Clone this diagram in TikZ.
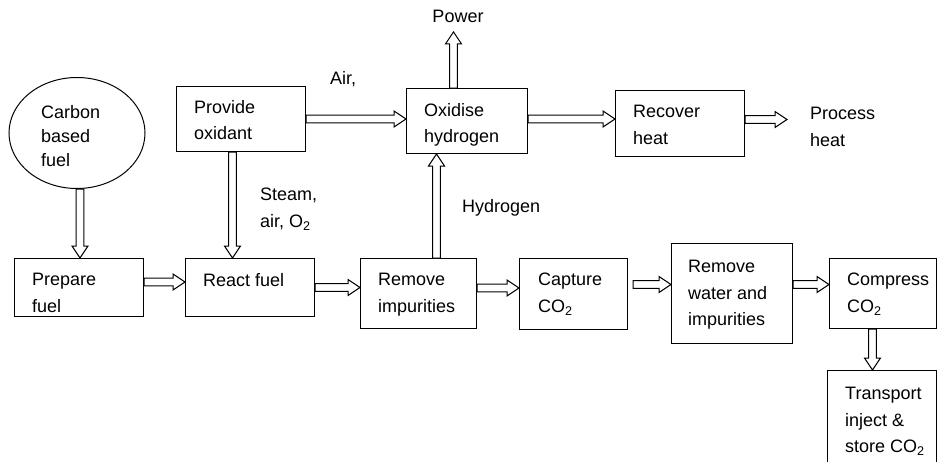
\documentclass[tikz,border=0pt]{standalone}
\usepackage{fontspec}
\setmainfont{Liberation Sans}
\usetikzlibrary{calc,positioning,shapes.geometric}
\newcommand{\cotwo}{CO\textsubscript{2}}
% hollow block arrow from #1 to #2
\newcommand{\flow}[2]{\path[flowline] let \p1=#1, \p2=#2, \n1={atan2(\y2-\y1,\x2-\x1)}, \n2={veclen(\x2-\x1,\y2-\y1)} in [shift={(\p1)}, rotate=\n1] (0,-3.8) -- ({\n2-12},-3.8) -- ({\n2-12},-8) -- (\n2,0) -- ({\n2-12},8) -- ({\n2-12},3.8) -- (0,3.8) -- cycle;}
\tikzset{
  box/.style={draw, line width=1pt, anchor=north west, inner sep=0pt},
  txt/.style={anchor=north west, inner sep=0pt, align=left, font=\fontsize{18}{26.5}\selectfont},
  flowline/.style={draw, line width=1pt, fill=white, line join=miter}
}

\begin{document}
\begin{tikzpicture}[x=1pt,y=-1pt]
\useasboundingbox (0,0) rectangle (937,461);
% boxes
\node[draw, ellipse, line width=1pt, minimum width=136pt, minimum height=111pt, inner sep=0pt] (fuel) at (77,133) {};
\node[box, minimum width=129pt, minimum height=65pt] (oxid) at (176,86) {};
\node[box, minimum width=121pt, minimum height=65pt] (oxh) at (406,88) {};
\node[box, minimum width=129pt, minimum height=66pt] (heat) at (615,90) {};
\node[box, minimum width=129pt, minimum height=58pt] (prep) at (14,258) {};
\node[box, minimum width=129pt, minimum height=58pt] (react) at (185,258) {};
\node[box, minimum width=116pt, minimum height=70pt] (clean) at (360,258) {};
\node[box, minimum width=108pt, minimum height=71pt] (capt) at (519,258) {};
\node[box, minimum width=121pt, minimum height=100pt] (dry) at (671,243) {};
\node[box, minimum width=107pt, minimum height=70pt] (comp) at (829,258) {};
\node[box, minimum width=109pt, minimum height=110pt] (store) at (827,370) {};
% box texts
\node[txt, font=\fontsize{18}{24}\selectfont] (fuelt) at (41,105) {Carbon\\based\\fuel};
\node[txt] (oxidt) at ([shift={(18pt,-14pt)}]oxid.north west) {Provide\\oxidant};
\node[txt] (oxht) at ([shift={(18pt,-15pt)}]oxh.north west) {Oxidise\\hydrogen};
\node[txt] (heatt) at ([shift={(18pt,-15pt)}]heat.north west) {Recover\\heat};
\node[txt] (prept) at ([shift={(18pt,-15pt)}]prep.north west) {Prepare\\fuel};
\node[txt] (reactt) at ([shift={(18pt,-15pt)}]react.north west) {React fuel};
\node[txt] (cleant) at ([shift={(18pt,-15pt)}]clean.north west) {Remove\\impurities};
\node[txt] (captt) at ([shift={(19pt,-15pt)}]capt.north west) {Capture\\\cotwo};
\node[txt] (dryt) at ([shift={(17pt,-17pt)}]dry.north west) {Remove\\water and\\impurities};
\node[txt] (compt) at ([shift={(18pt,-15pt)}]comp.north west) {Compress\\\cotwo};
\node[txt] (storet) at ([shift={(18pt,-17pt)}]store.north west) {Transport\\inject \&\\store \cotwo};
% free labels
\node[txt, anchor=north] (power) at (458,10) {Power};
\node[txt] (air) at (330,71) {Air,};
\node[txt] (steam) at (260,188) {Steam,\\air, O\textsubscript{2}};
\node[txt] (hyd) at (462,199) {Hydrogen};
\node[txt] (proc) at (810,107) {Process\\heat};
\coordinate (pw) at ([yshift=-9pt]power.south);
\coordinate (procin) at ([xshift=-23pt]proc.west);
% connectors
\flow{([xshift=3pt]fuel.south)}{([xshift=3pt]fuel.south |- prep.north)}
\flow{([xshift=-8.5pt]oxid.south)}{([xshift=-8.5pt]oxid.south |- react.north)}
\flow{(oxid.east)}{(oxid.east -| oxh.west)}
\flow{([yshift=2pt]oxh.east)}{([yshift=2pt]oxh.east -| heat.west)}
\flow{([yshift=4pt]heat.east)}{([yshift=4pt]heat.east -| procin)}
\flow{([xshift=-13.5pt]oxh.north)}{([xshift=-13.5pt]oxh.north |- pw)}
\flow{([xshift=18pt]clean.north)}{([xshift=18pt]clean.north |- oxh.south)}
\flow{([yshift=5.5pt]prep.east)}{([yshift=5.5pt]prep.east -| react.west)}
\flow{(react.east)}{(react.east -| clean.west)}
\flow{([yshift=5.5pt]clean.east)}{([yshift=5.5pt]clean.east -| capt.west)}
\flow{([shift={(5pt,9.5pt)}]capt.east)}{([yshift=9.5pt]capt.east -| dry.west)}
\flow{([yshift=9pt]dry.east)}{([yshift=9pt]dry.east -| comp.west)}
\flow{([xshift=-10.5pt]comp.south)}{([xshift=-10.5pt]comp.south |- store.north)}
\end{tikzpicture}
\end{document}
